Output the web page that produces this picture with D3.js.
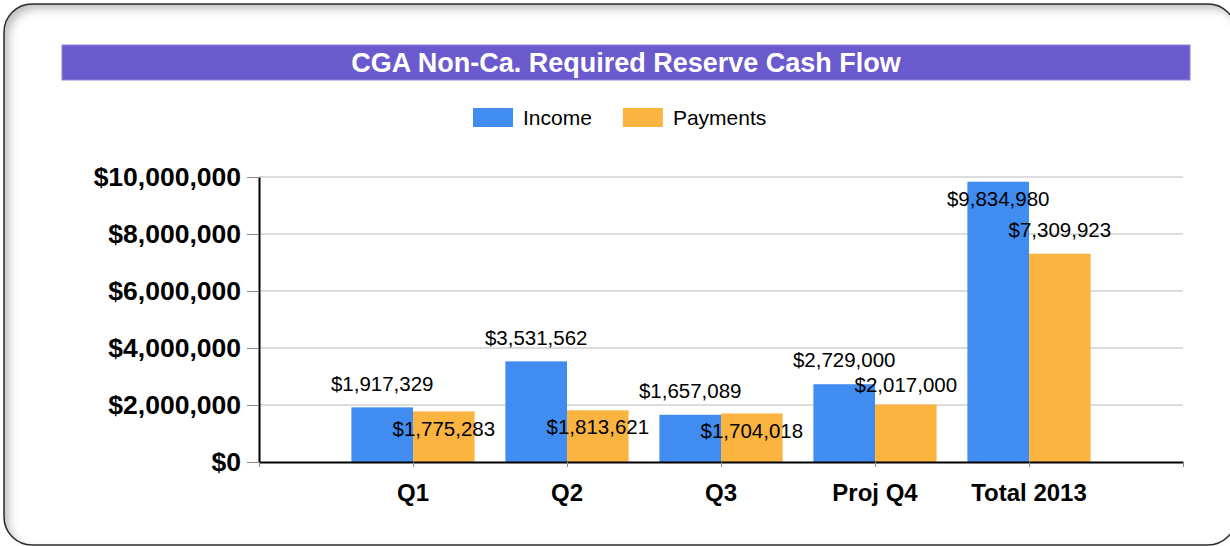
<!DOCTYPE html>
<html>
<head>
<meta charset="utf-8">
<script src="https://cdn.jsdelivr.net/npm/d3@7"></script>
<style>
  html, body { margin: 0; padding: 0; background: #fff; }
  svg { display: block; font-family: Arial, "Liberation Sans", sans-serif; }
</style>
</head>
<body>
<div id="chart"></div>
<script>
// chart data
const categories = ['Q1', 'Q2', 'Q3', 'Proj Q4', 'Total 2013'];
const income = [1917329, 3531562, 1657089, 2729000, 9834980];
const payments = [1775283, 1813621, 1704018, 2017000, 7309923];
const yTicks = [0, 2000000, 4000000, 6000000, 8000000, 10000000];
const seriesNames = ['Income', 'Payments'];
// where the value label sits relative to the bar top
const incomeLabelPos = ['above', 'above', 'above', 'above', 'inside'];
const paymentLabelPos = ['inside', 'inside', 'inside', 'close', 'above'];

const width = 1230;
const height = 546;
const colors = ['#418cf0', '#fcb441'];
const title = 'CGA Non-Ca. Required Reserve Cash Flow';

const fmt = d3.format('$,.0f');
const labelOffset = { above: -24, close: -20, inside: 17 };

const svg = d3.select('#chart').append('svg')
  .attr('width', width)
  .attr('height', height);

// inner shadow for the card
const defs = svg.append('defs');
const f = defs.append('filter').attr('id', 'inset')
  .attr('x', '-5%').attr('y', '-5%').attr('width', '110%').attr('height', '110%');
f.append('feFlood').attr('flood-color', '#000').attr('flood-opacity', 0.5);
f.append('feComposite').attr('in2', 'SourceAlpha').attr('operator', 'out');
f.append('feGaussianBlur').attr('stdDeviation', 5);
f.append('feOffset').attr('dx', 5).attr('dy', 5).attr('result', 'shadow');
f.append('feComposite').attr('in', 'shadow').attr('in2', 'SourceAlpha').attr('operator', 'in').attr('result', 'inner');
const merge = f.append('feMerge');
merge.append('feMergeNode').attr('in', 'SourceGraphic');
merge.append('feMergeNode').attr('in', 'inner');

svg.append('rect')
  .attr('x', 4).attr('y', 4)
  .attr('width', 1232).attr('height', 541)
  .attr('rx', 28).attr('ry', 28)
  .attr('fill', '#fff')
  .attr('filter', 'url(#inset)');
svg.append('rect')
  .attr('x', 4).attr('y', 4)
  .attr('width', 1232).attr('height', 541)
  .attr('rx', 28).attr('ry', 28)
  .attr('fill', 'none')
  .attr('stroke', '#2b2b2b')
  .attr('stroke-width', 1.5);

// title bar
svg.append('rect')
  .attr('x', 62).attr('y', 45)
  .attr('width', 1128).attr('height', 35)
  .attr('fill', '#6a5acd')
  .attr('stroke', '#8f83dd')
  .attr('stroke-width', 1);
svg.append('text')
  .attr('x', 626).attr('y', 72)
  .attr('text-anchor', 'middle')
  .attr('fill', '#fff')
  .style('font-size', '27px')
  .style('font-weight', 'bold')
  .text(title);

// legend
const legend = svg.append('g').attr('transform', 'translate(473,108)');
let lx = 0;
seriesNames.forEach((name, i) => {
  const g = legend.append('g').attr('transform', `translate(${lx},0)`);
  g.append('rect')
    .attr('width', 40).attr('height', 19)
    .attr('fill', colors[i]);
  const t = g.append('text')
    .attr('x', 50).attr('y', 17)
    .style('font-size', '21px')
    .attr('fill', '#000')
    .text(name);
  lx += 50 + t.node().getComputedTextLength() + 31;
});

// scales
const x = d3.scaleLinear().domain([0, categories.length + 1]).range([259, 1183]);
const y = d3.scaleLinear().domain([0, 10000000]).range([462, 177]);
const bw = 0.4;

// gridlines
svg.append('g')
  .selectAll('line')
  .data(yTicks.filter(d => d > 0))
  .join('line')
  .attr('x1', x(0)).attr('x2', x(categories.length + 1))
  .attr('y1', d => y(d)).attr('y2', d => y(d))
  .attr('stroke', '#dcdcdc')
  .attr('stroke-width', 2);

// y axis
const yAxis = svg.append('g')
  .attr('transform', `translate(${x(0)},0)`)
  .call(d3.axisLeft(y).tickValues(yTicks).tickSize(12).tickSizeOuter(0).tickPadding(6).tickFormat(fmt));
yAxis.select('.domain').attr('stroke', '#000').attr('stroke-width', 2);
yAxis.selectAll('.tick line').attr('stroke', '#888');
yAxis.selectAll('.tick text')
  .attr('fill', '#000')
  .style('font-size', '26.5px')
  .style('font-weight', 'bold')
  .style('font-family', 'Arial, "Liberation Sans", sans-serif');

// bars
const idx = d3.range(categories.length);
const series = [income, payments];
series.forEach((vals, s) => {
  svg.append('g')
    .selectAll('rect')
    .data(idx)
    .join('rect')
    .attr('x', i => x(i + 1 - bw + s * bw))
    .attr('width', x(bw) - x(0))
    .attr('y', i => y(vals[i]))
    .attr('height', i => y(0) - y(vals[i]))
    .attr('fill', colors[s]);
});

// x axis
const xAxis = svg.append('g')
  .attr('transform', `translate(0,${y(0)})`)
  .call(d3.axisBottom(x).tickValues(d3.range(categories.length + 2)).tickSize(5).tickSizeOuter(0).tickFormat(''));
xAxis.select('.domain').attr('stroke', '#000').attr('stroke-width', 2);
xAxis.selectAll('.tick line').attr('stroke', '#888');

svg.append('g')
  .selectAll('text')
  .data(categories)
  .join('text')
  .attr('x', (d, i) => x(i + 1))
  .attr('y', 501)
  .attr('text-anchor', 'middle')
  .attr('fill', '#000')
  .style('font-size', '24px')
  .style('font-weight', 'bold')
  .text(d => d);

// value labels
const labelPos = [incomeLabelPos, paymentLabelPos];
series.forEach((vals, s) => {
  svg.append('g')
    .selectAll('text')
    .data(idx)
    .join('text')
    .attr('x', i => x(i + 1 - bw / 2 + s * bw))
    .attr('y', i => y(vals[i]) + labelOffset[labelPos[s][i]])
    .attr('dy', '0.35em')
    .attr('text-anchor', 'middle')
    .attr('fill', '#000')
    .style('font-size', '20.5px')
    .text(i => fmt(vals[i]));
});
</script>
</body>
</html>
